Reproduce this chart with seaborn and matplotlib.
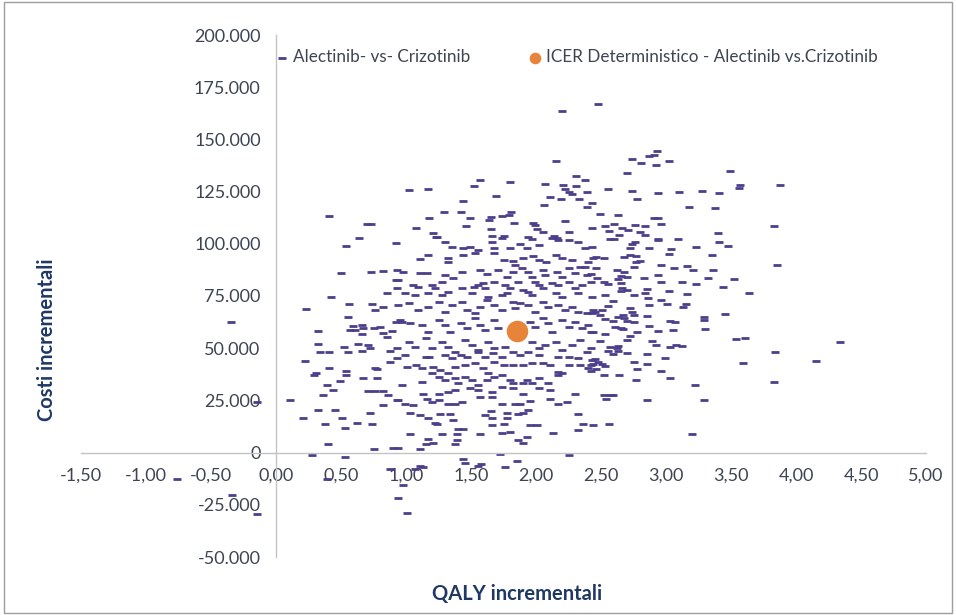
import matplotlib
matplotlib.use("Agg")
import matplotlib.pyplot as plt
import numpy as np
import pandas as pd
import seaborn as sns
from matplotlib.ticker import FuncFormatter, MultipleLocator
from matplotlib.patches import Rectangle

# ---------------- data ----------------
# upper area (costs above ~100.000)
qaly_alto = [
    0.41, 1.02, 0.70, 0.73, 0.64, 1.08,
    2.48, 2.20, 2.15, 2.74, 2.81, 2.87, 2.70, 1.57, 1.52, 1.80, 1.17, 2.31, 2.38, 2.07, 2.21, 2.31, 2.22, 2.25, 2.28, 2.39, 2.55, 2.74, 2.78,
    1.44, 1.69, 2.11, 2.19, 2.33, 2.43, 2.06, 2.39, 1.81, 1.79, 1.74, 1.29, 1.42, 1.18, 1.49, 1.65, 1.64, 1.83, 1.46, 1.65, 1.21, 1.23, 1.66, 1.75, 1.94,
    1.98, 1.99, 2.01, 2.05, 2.22, 2.14, 2.16, 2.25, 2.43, 2.49, 2.63, 2.53, 2.60, 2.66, 2.71, 2.76, 2.84, 2.56, 2.64, 2.80, 2.84, 2.57, 2.60,
    2.93, 2.91, 3.02, 2.92, 3.49, 3.57, 3.56, 3.88, 2.94, 3.10, 3.28, 3.41, 3.18, 3.38, 2.91, 2.94, 2.96, 3.83, 3.40, 2.94, 3.09,
    2.76, 2.74, 2.94, 3.41,
    1.24, 1.30, 1.74, 1.97, 2.12, 2.17, 2.25, 2.32, 1.66, 0.92,
]
costi_alto = [
    113300, 125800, 109400, 109400, 102700, 107500,
    167000, 163700, 139700, 140600, 138700, 142100, 133900, 130600, 127700, 129600, 126200, 132500, 130600, 128600, 128200, 127700, 126200, 124800, 123800, 124800, 126200, 125300, 121400,
    120500, 122900, 122400, 121400, 121400, 119500, 118600, 117600, 115200, 113800, 113300, 115200, 115200, 112300, 112300, 112800, 111400, 109900, 108500, 107000, 105100, 103200, 103700, 103700, 103200,
    109900, 109000, 107000, 105600, 110900, 103700, 102700, 105600, 107500, 114200, 113800, 108500, 109400, 107500, 106600, 109000, 108500, 106100, 104200, 105600, 104200, 102200, 102200,
    144500, 142600, 139700, 137800, 134900, 128200, 126700, 128200, 124300, 124800, 125300, 124300, 117600, 117100, 112300, 112300, 109400, 108500, 105100, 102200, 102200,
    100800, 99800, 101800, 100800,
    103200, 100800, 102700, 102200, 102700, 101800, 101800, 100800, 100800, 100300,
]

# middle-left area
qaly_medio_sx = [
    0.54, 0.50, 0.73, 0.82, 0.93, 0.92, 0.93, 0.85, 0.42, 0.56, 0.74, 0.76, 0.82, 0.23, 0.55, -0.35, 0.32,
    0.59, 0.66, 0.67, 0.57, 0.61, 0.66, 0.75, 0.80, 0.82, 0.89, 0.85, 0.92, 0.95, 0.32, 0.52, 0.63, 0.71,
]
costi_medio_sx = [
    98900, 85900, 86400, 86900, 87400, 82600, 78700, 76300, 74400, 71000, 71000, 68200, 69600, 68600, 64800, 62400, 58100,
    60500, 61000, 59500, 58600, 58600, 56600, 59500, 60000, 57100, 58100, 55200, 62400, 63400, 51800, 50400, 51800, 51400,
]

# middle-right area
qaly_medio_dx = [
    2.87, 2.72, 3.04, 3.23, 3.48, 3.02, 3.35,
    2.46, 2.52, 2.68, 2.72, 2.77, 2.80, 2.77,
    3.85, 2.96, 2.75, 3.06, 3.16, 3.21, 3.36,
    2.46, 2.62, 2.68, 2.65, 2.70,
    2.42, 2.47, 2.52, 2.55, 2.63, 2.65,
    2.83, 2.94, 2.96, 3.12, 3.23, 3.32, 3.52, 3.44, 3.64,
    2.66, 2.70, 2.65, 2.85, 2.84, 3.02, 3.16,
    2.53, 2.75, 2.59, 2.86, 2.96, 2.87, 3.01, 3.15, 3.13,
    2.55, 2.51, 2.45, 2.43, 2.49,
    2.72, 2.74, 2.75, 2.67, 2.63, 2.85,
    3.29, 3.29, 3.45,
    2.53, 2.59, 2.68, 2.70, 2.75, 3.03, 3.07,
    2.87, 2.61, 2.65, 2.67, 2.42, 2.53, 2.72, 2.70,
    2.78, 2.94, 3.05, 3.30, 3.54, 3.61, 4.34,
    2.89, 2.92, 3.03, 3.08, 3.12,
    2.49, 2.57, 2.62, 2.63,
]
costi_medio_dx = [
    97900, 97900, 97400, 98400, 98900, 95000, 94600,
    93600, 93100, 93600, 94600, 94100, 91700, 91200,
    89800, 89800, 88800, 88300, 89300, 87400, 87400,
    88300, 87400, 86400, 84500, 84000,
    85400, 83500, 81600, 80600, 83000, 81100,
    83500, 85000, 81600, 81600, 80600, 83500, 83000, 79200, 76300,
    78700, 77800, 77300, 78200, 76300, 77300, 75800,
    75400, 75400, 72500, 73900, 73000, 70600, 71000, 71000, 69600,
    70100, 68200, 67200, 66700, 65800,
    69100, 67200, 65800, 65800, 64800, 65300,
    64800, 63400, 66200,
    63800, 62900, 64300, 62900, 62400, 62900, 62400,
    60500, 60000, 59500, 59000, 57600, 56600, 55700, 53800,
    57600, 58100, 58600, 59000, 54200, 54700, 52800,
    53300, 51400, 50400, 51400, 50900,
    53300, 50400, 49900, 50900,
]

# dense central area
qaly_centro = [
    1.35, 1.44, 1.49, 1.55, 1.68, 1.80, 1.88, 1.93, 2.02, 2.38, 2.43, 1.17,
    1.11, 1.32, 1.32, 1.44, 1.53, 1.68, 1.75, 1.82, 1.84, 1.90, 1.98, 2.02, 2.08, 2.15, 2.20, 2.28, 2.34, 2.40, 2.44,
    0.98, 1.11, 1.16, 1.30, 1.36, 1.43, 1.57, 1.62, 1.71, 1.78, 1.82, 1.89, 1.94, 1.97, 2.05, 2.07, 2.16, 2.20, 2.25, 2.30, 2.38, 2.39,
    0.94, 1.05, 1.09, 1.20, 1.22, 1.28, 1.32, 1.43, 1.52, 1.55, 1.59, 1.61, 1.68, 1.76, 1.80, 1.86, 1.90, 1.99, 2.02, 2.05, 2.12, 2.17, 2.25, 2.30, 2.35, 2.42,
    0.99, 1.07, 1.17, 1.28, 1.51, 1.63, 1.74, 1.78, 1.94, 1.97, 2.15, 2.20, 2.32, 2.43,
    0.94, 1.02, 1.09, 1.17, 1.25, 1.30, 1.35, 1.43, 1.47, 1.53, 1.57, 1.62, 1.68, 1.74, 1.82, 1.84, 1.88, 1.94, 1.99, 2.05, 2.09, 2.17, 2.22, 2.28, 2.32, 2.39, 2.44,
    0.97, 1.03, 1.12, 1.17, 1.25, 1.30, 1.34, 1.42, 1.47, 1.53, 1.57, 1.61, 1.68, 1.71, 1.95, 1.99, 2.05, 2.09, 2.12, 2.20, 2.25, 2.30, 2.35, 2.40, 2.44,
    1.02, 1.07, 1.15, 1.20, 1.28, 1.32, 1.38, 1.45, 1.51, 1.55, 1.63, 1.68, 1.76, 1.82, 1.97, 2.02, 2.07, 2.15, 2.20, 2.28, 2.34, 2.42,
]
costi_centro = [
    98400, 97900, 98400, 97000, 97900, 97900, 99800, 97900, 99400, 97900, 98400, 94600,
    92600, 93100, 91200, 94600, 95500, 95500, 92200, 91700, 89800, 93100, 94100, 92200, 91200, 94600, 93100, 92200, 88800, 91200, 93100,
    86400, 85900, 85900, 85000, 83500, 86400, 87400, 85400, 87400, 84000, 86400, 88300, 86400, 84000, 87400, 85000, 86400, 84000, 88300, 85900, 88800, 85000,
    82600, 80200, 79200, 80200, 78700, 81600, 76800, 78700, 79200, 80200, 81100, 78700, 81600, 80200, 78700, 81600, 77800, 81600, 80200, 78700, 81100, 80200, 81600, 78700, 80200, 81600,
    76300, 75400, 76300, 75400, 76300, 74400, 75400, 76300, 76800, 75400, 76300, 74400, 76300, 74400,
    70600, 71500, 68200, 69600, 72000, 67200, 70600, 72000, 68200, 66700, 69600, 73000, 70600, 68200, 72000, 69100, 71500, 70600, 67200, 72000, 69600, 70600, 68200, 69600, 67200, 66700, 68200,
    62400, 61900, 61000, 57600, 63400, 61000, 57600, 61900, 59500, 64300, 61000, 58600, 63400, 59500, 62400, 60000, 64300, 61900, 57600, 63400, 60000, 62400, 59500, 61000, 57600,
    52800, 50400, 54700, 49900, 52800, 50400, 48000, 53800, 51400, 49000, 52800, 49900, 50400, 48000, 52800, 49900, 51400, 52800, 49000, 51400, 53800, 49900,
]

# lower-left area
qaly_basso_sx = [
    0.34, 0.41, 0.55, 0.66, 0.72, 0.88, 0.93,
    0.22, 0.88, 0.93, 0.29, 0.31, 0.41, 0.54, 0.54, 0.49, 0.76, 0.78, 0.67, 0.78,
    0.39, 0.44, 0.36, 0.71, 0.76, 0.82, 0.86, 0.93, 0.11, 0.82, 0.32, 0.45,
    0.21, 0.51, 0.72, 0.38, 0.53, 0.62, 0.74, 0.40, 0.75, 0.90, 0.28, 0.53,
    0.88, 0.39, -0.76, -0.34, -0.15, 0.94, -0.15,
]
costi_basso_sx = [
    48000, 48000, 48000, 48500, 49900, 48500, 49900,
    43700, 43200, 45100, 37400, 37900, 40300, 38900, 37000, 34100, 40300, 39800, 35500, 35500,
    32600, 29800, 27800, 29300, 29300, 29300, 27800, 25000, 25400, 22600, 20600, 20600,
    16800, 16800, 19200, 13900, 12000, 14400, 13900, 4300, 1900, 2400, -1000, -1900,
    -7700, -12500, -12500, -20200, -29300, -21600, 24000,
]

# lower-central area
qaly_basso_centro = [
    0.99, 1.15, 1.18, 1.30, 1.35, 1.42, 1.47, 1.55, 1.61, 1.67, 1.74, 1.88, 1.94, 2.02, 2.17, 2.25, 2.32, 2.39, 2.43,
    1.01, 1.08, 1.12, 1.21, 1.26, 1.38, 1.45, 1.53, 1.59, 1.68, 1.75, 1.82, 1.90, 1.97, 2.05, 2.11, 2.17, 2.25, 2.34, 2.40,
    0.97, 1.12, 1.20, 1.25, 1.32, 1.30, 1.38, 1.40, 1.45, 1.51, 1.55, 1.62, 1.63, 1.68, 1.74, 1.80, 1.82, 1.90, 1.93, 1.97, 2.02, 2.09, 2.17, 2.20,
    1.49, 1.55, 1.38, 1.32, 1.25, 1.13, 1.66, 1.74, 1.82, 1.90, 2.02, 2.11, 2.30,
    0.94, 0.99, 1.05, 1.16, 1.20, 1.25, 1.32, 1.38, 1.43, 1.57, 1.66, 1.74, 1.84, 1.88, 1.95, 2.11, 2.17, 2.24,
    1.03, 1.11, 1.17, 1.26, 1.34, 1.65, 1.61, 1.78, 1.78, 1.86, 1.90, 1.94, 1.66, 2.32,
    1.22, 1.24, 1.36, 1.40, 1.44, 1.66, 1.75, 1.95, 2.01, 2.36,
    1.03, 1.28, 1.39, 1.57, 1.74, 1.80, 2.13, 2.32,
    1.17, 1.21, 1.15, 1.39, 1.38, 1.86, 1.90, 1.93, 1.11, 0.94, 1.72, 2.25,
    1.44, 1.45, 1.58, 1.55, 1.85, 1.11, 1.76, 1.07, 1.13, 0.98, 1.01,
]
costi_basso_centro = [
    46600, 45600, 45600, 46600, 45100, 46600, 45600, 48000, 45600, 47500, 45600, 46600, 48000, 46600, 45600, 45600, 45100, 48000, 44200,
    40800, 41800, 40300, 40800, 39400, 40800, 41800, 42700, 40300, 43200, 41800, 41800, 41800, 42700, 42700, 41800, 38400, 41800, 41800, 40300,
    32600, 33600, 37900, 36000, 37900, 34600, 35500, 33100, 36000, 34600, 32200, 34600, 37900, 36000, 37000, 34600, 33100, 33100, 34600, 33100, 35500, 33100, 37000, 37900,
    30700, 29800, 30200, 28800, 28300, 28300, 28800, 31200, 30700, 28300, 30700, 30200, 28300,
    25000, 23500, 22600, 25900, 24000, 25000, 23500, 23500, 24000, 26400, 26400, 23500, 23500, 23500, 24500, 25900, 23500, 24000,
    19200, 18200, 16800, 18700, 18700, 19700, 17800, 19200, 16800, 18700, 19200, 20200, 16800, 18700,
    14400, 13900, 15800, 11500, 11500, 13000, 13900, 13000, 13000, 13900,
    9100, 9100, 9100, 9100, 9600, 10100, 9600, 11000,
    6700, 4800, 4300, 5800, 4300, 6200, 4800, 7700, 1900, 2400, -500, -1000,
    -2900, -4800, -5300, -6200, -3800, -6200, -6700, -7700, -6700, -15400, -28800,
]

# lower-right area
qaly_basso_dx = [
    2.55, 2.63, 2.70, 2.59, 2.85, 2.99, 2.75, 2.85, 2.45, 2.48, 2.51, 2.53, 2.42, 2.44, 2.46, 2.42, 2.78, 2.96,
    2.52, 2.64, 3.03, 2.77, 3.59, 3.84, 4.15, 3.83, 3.22, 2.52, 2.58, 2.59, 2.54, 2.85, 3.29, 2.44, 2.56, 3.20,
]
costi_basso_dx = [
    48500, 48500, 47500, 47000, 47000, 45100, 43200, 42200, 44600, 43200, 42200, 41300, 41800, 42200, 39800, 38900, 39800, 38900,
    37400, 37400, 35500, 34600, 42700, 48000, 43700, 33600, 32200, 27800, 27800, 27800, 25900, 25400, 25000, 13400, 13900, 9100,
]

# deterministic ICER
icer_qaly = [1.85]
icer_costi = [58100]

label_sim = "Alectinib- vs- Crizotinib"
label_icer = "ICER Deterministico - Alectinib vs.Crizotinib"
x_ticks = np.arange(-1.5, 5.01, 0.5)
y_ticks = np.arange(-50000, 200001, 25000)

# ---------------- build table ----------------
groups = [
    (qaly_alto, costi_alto), (qaly_medio_sx, costi_medio_sx), (qaly_medio_dx, costi_medio_dx),
    (qaly_centro, costi_centro), (qaly_basso_sx, costi_basso_sx),
    (qaly_basso_centro, costi_basso_centro), (qaly_basso_dx, costi_basso_dx),
]
for gx, gy in groups:
    assert len(gx) == len(gy), (len(gx), len(gy))
df = pd.DataFrame({
    "QALY": np.concatenate([g[0] for g in groups]),
    "Costi": np.concatenate([g[1] for g in groups]),
})

# ---------------- style ----------------
sns.set_style("white")
plt.rcParams["font.family"] = ["Lato", "DejaVu Sans"]

PURPLE = "#4d3e8c"
ORANGE = "#e8843a"
GRID_GREY = "#c3c3c3"
TEXT = "#3e4452"
TITLE = "#1f3864"

fig = plt.figure(figsize=(9.56, 6.15), dpi=100)
ax = fig.add_axes([81 / 956, 1 - 557 / 615, 845 / 956, 522 / 615])

sns.scatterplot(data=df, x="QALY", y="Costi", marker="_", s=38, linewidth=2.0,
                color=PURPLE, edgecolor=PURPLE, ax=ax, label=label_sim, zorder=2)
sns.scatterplot(x=icer_qaly, y=icer_costi, s=240, color=ORANGE, edgecolor=ORANGE,
                linewidth=0, ax=ax, label=label_icer, zorder=3)

ax.set_xlim(-1.5, 5.0)
ax.set_ylim(-50000, 200000)
ax.set_xticks(x_ticks)
ax.set_yticks(y_ticks)
ax.xaxis.set_major_formatter(FuncFormatter(lambda v, p: f"{v:.2f}".replace(".", ",")))
ax.yaxis.set_major_formatter(FuncFormatter(lambda v, p: f"{v:,.0f}".replace(",", ".")))

for side in ("top", "right"):
    ax.spines[side].set_visible(False)
ax.spines["left"].set_position(("data", 0))
ax.spines["bottom"].set_position(("data", 0))
for side in ("left", "bottom"):
    ax.spines[side].set_color(GRID_GREY)
    ax.spines[side].set_linewidth(1.0)

ax.tick_params(axis="both", direction="out", length=5, width=1, color=GRID_GREY,
               labelsize=13, labelcolor=TEXT)
ax.tick_params(axis="x", pad=6)
ax.tick_params(axis="y", pad=6)
ax.set_xlabel("")
ax.set_ylabel("")

# legend at the top
handles, labels = ax.get_legend_handles_labels()
if ax.get_legend() is not None:
    ax.get_legend().remove()
leg = fig.legend(handles, labels, loc="center", bbox_to_anchor=(0.603, 0.907), ncol=2,
                 frameon=False, fontsize=12.3, columnspacing=3.4, handletextpad=0.25,
                 handlelength=0.8, labelcolor=TEXT)
try:
    leg.legend_handles[1].set_sizes([70])
except Exception:
    pass

# axis titles
fig.text(517 / 956, 1 - 594 / 615, "QALY incrementali", ha="center", va="center",
         fontsize=14.5, fontweight="bold", color=TITLE)
fig.text(47 / 956, 1 - 340 / 615, "Costi incrementali", ha="center", va="center",
         rotation=90, fontsize=14.5, fontweight="bold", color=TITLE)

# outer frame
fig.patches.append(Rectangle((0.004, 0.004), 0.992, 0.992, transform=fig.transFigure,
                             fill=False, edgecolor="#9e9e9e", linewidth=1.0))

fig.savefig("out.png", dpi=100)
